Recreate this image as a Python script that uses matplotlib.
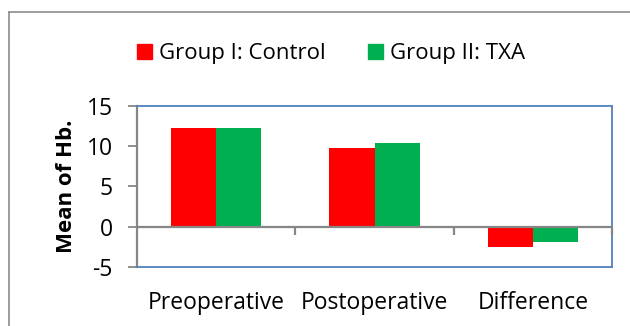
import matplotlib
matplotlib.use("Agg")
import matplotlib.pyplot as plt
import numpy as np
from matplotlib.lines import Line2D
from matplotlib.patches import Patch

# Mean haemoglobin per group
categories = ["Preoperative", "Postoperative", "Difference"]
group_names = ["Group I: Control", "Group II: TXA"]
control_vals = [12.3, 9.8, -2.5]
txa_vals = [12.2, 10.4, -1.9]
y_ticks = [-5, 0, 5, 10, 15]

C_RED, C_GREEN = "#FF0000", "#00B050"
C_GRAY, C_BLUE = "#868686", "#4F81BD"

plt.rcParams.update({"font.family": ["Open Sans", "DejaVu Sans"]})

fig = plt.figure(figsize=(6.3, 3.26), dpi=100)
ax = fig.add_axes([0.2175, 0.181, 0.754, 0.494])

x = np.arange(len(categories))
w = 1 / 3.5  # Excel gap width 150%
ax.bar(x - w / 2, control_vals, w, color=C_RED, zorder=2)
ax.bar(x + w / 2, txa_vals, w, color=C_GREEN, zorder=2)

ax.set_xlim(-0.5, 2.5)
ax.set_ylim(-5, 15)
ax.set_yticks(y_ticks)
ax.set_yticklabels([str(v) for v in y_ticks], fontsize=16.5)
ax.tick_params(axis="y", direction="out", length=6.5, width=1.3, color=C_GRAY, pad=11)

ax.set_xticks(x)
ax.set_xticklabels(categories, fontsize=16.5)
ax.tick_params(axis="x", length=0, pad=17)

# zero line with category separators
ax.axhline(0, color=C_GRAY, lw=1.6, zorder=3)
ax.vlines([0.5, 1.5, 2.5], -1.0, 0, color=C_GRAY, lw=1.6, zorder=3, clip_on=False)

for side in ("top", "right", "bottom"):
    ax.spines[side].set_color(C_BLUE)
    ax.spines[side].set_linewidth(1.3)
ax.spines["left"].set_color(C_GRAY)
ax.spines["left"].set_linewidth(1.6)

ax.set_ylabel("Mean of Hb.", fontsize=16, fontweight="bold", labelpad=7)

handles = [Patch(color=C_RED), Patch(color=C_GREEN)]
fig.legend(handles, group_names, loc="center", bbox_to_anchor=(0.525, 0.835),
           ncol=2, frameon=False, fontsize=16, handlelength=0.7, handleheight=0.7,
           handletextpad=0.3, columnspacing=1.9)

# chart-area frame
fig.add_artist(Line2D([9 / 630, 9 / 630], [0, 1 - 12 / 326], transform=fig.transFigure,
                      color="#8C8C8C", lw=1.2))
fig.add_artist(Line2D([9 / 630, 1], [1 - 12 / 326, 1 - 12 / 326], transform=fig.transFigure,
                      color="#8C8C8C", lw=1.2))

fig.savefig("out.png", dpi=100)
